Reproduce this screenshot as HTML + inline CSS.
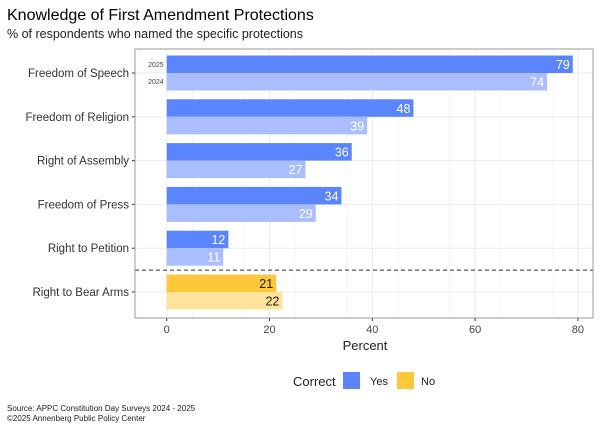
<!DOCTYPE html>
<html><head><meta charset="utf-8"><style>
body{margin:0;background:#fff;font-family:"Liberation Sans",sans-serif;}
svg text{font-family:"Liberation Sans",sans-serif;}
</style></head><body>
<svg width="600" height="428" viewBox="0 0 600 428">
<text x="7" y="20" font-size="16" fill="#000">Knowledge of First Amendment Protections</text>
<text x="7" y="38" font-size="12.5" fill="#222">% of respondents who named the specific protections</text>
<g id="plot"></g>
<text x="365" y="350" font-size="13" fill="#222" text-anchor="middle">Percent</text>
<g>
<text x="293" y="386" font-size="13" fill="#222">Correct</text>
<rect x="343" y="372" width="17" height="17" fill="#5B84FF"/>
<text x="370" y="385" font-size="11" fill="#222">Yes</text>
<rect x="397" y="372" width="17" height="17" fill="#FFC83A"/>
<text x="421" y="385" font-size="11" fill="#222">No</text>
</g>
<text x="7" y="411" font-size="8" fill="#222">Source: APPC Constitution Day Surveys 2024 - 2025</text>
<text x="7" y="421" font-size="8" fill="#222">©2025 Annenberg Public Policy Center</text>
</svg>
<script>
const categories=["Freedom of Speech","Freedom of Religion","Right of Assembly","Freedom of Press","Right to Petition","Right to Bear Arms"];
const values2025=[79,48,36,34,12,21.3];
const values2024=[74,39,27,29,11,22.5];
const labels2025=["79","48","36","34","12","21"];
const labels2024=["74","39","27","29","11","22"];
const correct=["Yes","Yes","Yes","Yes","Yes","No"];
const xTicks=[0,20,40,60,80];

const NS="http://www.w3.org/2000/svg";
const g=document.getElementById('plot');
const L=135,R=593,T=49,B=318;
const x=v=>166.7+v*5.14;
const y=i=>73+i*43.8;
function el(t,a,p){const e=document.createElementNS(NS,t);for(const k in a)e.setAttribute(k,a[k]);(p||g).appendChild(e);return e;}
// gridlines
for(let v=-5;v<=85;v+=10){if(x(v)>L&&x(v)<R){const l=el('line',{x1:x(v),x2:x(v),y1:T,y2:B,stroke:'#f0f0f0','stroke-width':0.6});

}}
xTicks.forEach(v=>{const l=el('line',{x1:x(v),x2:x(v),y1:T,y2:B,stroke:'#ebebeb','stroke-width':1});


const tk=el('line',{x1:x(v),x2:x(v),y1:B,y2:B+3,stroke:'#333'});


const t=el('text',{x:x(v),y:B+15,'font-size':11,fill:'#444','text-anchor':'middle'});t.textContent=v;

});
categories.forEach((c,i)=>{const l=el('line',{x1:L,x2:R,y1:y(i),y2:y(i),stroke:'#ebebeb','stroke-width':1});

});
categories.forEach((c,i)=>{
const yes=correct[i]==="Yes";
const c1=yes?'#5B84FF':'#FFC83A',c2=yes?'#AABEFF':'#FFE39B',tc=yes?'#fff':'#222';
const b1=el('rect',{x:x(0),y:y(i)-17.5,width:x(values2025[i])-x(0),height:17.5,fill:c1});


const b2=el('rect',{x:x(0),y:y(i),width:x(values2024[i])-x(0),height:17.5,fill:c2});


const t1=el('text',{x:x(values2025[i])-3,y:y(i)-4,'font-size':12.5,fill:tc,'text-anchor':'end'});t1.textContent=labels2025[i];


const t2=el('text',{x:x(values2024[i])-3,y:y(i)+13.5,'font-size':12.5,fill:tc,'text-anchor':'end'});t2.textContent=labels2024[i];


const cl=el('text',{x:L-6,y:y(i)+4,'font-size':11.5,fill:'#333','text-anchor':'end'});cl.textContent=c;


const tk=el('line',{x1:L-3,x2:L,y1:y(i),y2:y(i),stroke:'#333'});


});
const ya=el('text',{x:x(0)-3,y:y(0)-6,'font-size':7,fill:'#444','text-anchor':'end'});ya.textContent='2025';


const yb=el('text',{x:x(0)-3,y:y(0)+11,'font-size':7,fill:'#444','text-anchor':'end'});yb.textContent='2024';


const d=el('line',{x1:L,x2:R,y1:(y(4)+y(5))/2,y2:(y(4)+y(5))/2,stroke:'#333','stroke-dasharray':'4,3','stroke-width':1});


const p=el('rect',{x:L,y:T,width:R-L,height:B-T,fill:'none',stroke:'#999','stroke-width':1});


</script>
</body></html>
